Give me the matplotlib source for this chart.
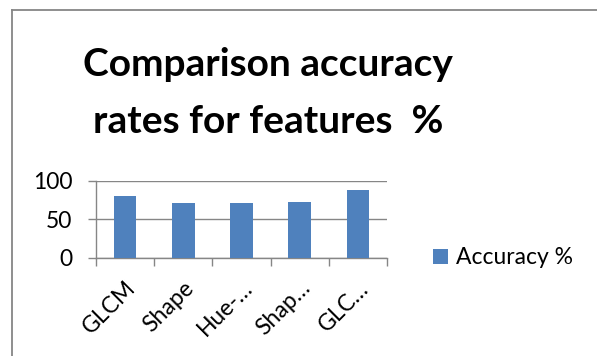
import matplotlib
matplotlib.use("Agg")
import matplotlib.pyplot as plt
from matplotlib.lines import Line2D

categories = ["GLCM", "Shape", "Hue-…", "Shap…", "GLC…"]
accuracy = [80.2, 71.6, 71.6, 72.9, 88.4]
y_ticks = [0, 50, 100]

bar_color = "#4f81bd"
grey = "#868686"
W, H = 597, 356

plt.rcParams["font.family"] = ["Lato", "DejaVu Sans"]

fig = plt.figure(figsize=(W / 100, H / 100), dpi=100)

# outer chart frame (only top and left visible)
fig.add_artist(Line2D([12 / W, 12 / W], [0, 1 - 10 / H], color=grey, lw=1.3))
fig.add_artist(Line2D([12 / W, 1], [1 - 10 / H, 1 - 10 / H], color=grey, lw=1.3))

fig.text(268 / W, 1 - 76 / H, "Comparison accuracy", ha="center",
         va="baseline", fontsize=28, fontweight="bold")
fig.text(268 / W, 1 - 133 / H, "rates for features  %", ha="center",
         va="baseline", fontsize=28, fontweight="bold")

ax = fig.add_axes([96 / W, 1 - 258 / H, 291 / W, 77.3 / H])
x = range(len(categories))
bars = ax.bar(x, accuracy, width=0.39, color=bar_color, label="Accuracy %", zorder=3)

ax.set_xlim(-0.5, len(categories) - 0.5)
ax.set_ylim(0, 100)
ax.set_yticks(y_ticks)
ax.set_yticklabels([str(v) for v in y_ticks], fontsize=16.5)
ax.tick_params(axis="y", length=6, color=grey, width=1, pad=11)
ax.yaxis.grid(True, color=grey, lw=1, zorder=0)

ax.set_xticks(list(x))
ax.set_xticklabels(categories, fontsize=16.5, rotation=45, ha="right",
                   va="top", rotation_mode="anchor")
ax.tick_params(axis="x", which="major", length=0, pad=14)
ax.set_xticks([i - 0.5 for i in range(len(categories) + 1)], minor=True)
ax.tick_params(axis="x", which="minor", length=6, color=grey, width=1)

for s in ["top", "right"]:
    ax.spines[s].set_visible(False)
for s in ["left", "bottom"]:
    ax.spines[s].set_color(grey)
    ax.spines[s].set_linewidth(1)

fig.legend(handles=[bars], labels=["Accuracy %"], loc="center left",
           bbox_to_anchor=(412 / W, 1 - 258 / H), frameon=False, fontsize=16.5,
           handlelength=0.65, handleheight=0.65, handletextpad=0.35)

fig.savefig("out.png", dpi=100)
